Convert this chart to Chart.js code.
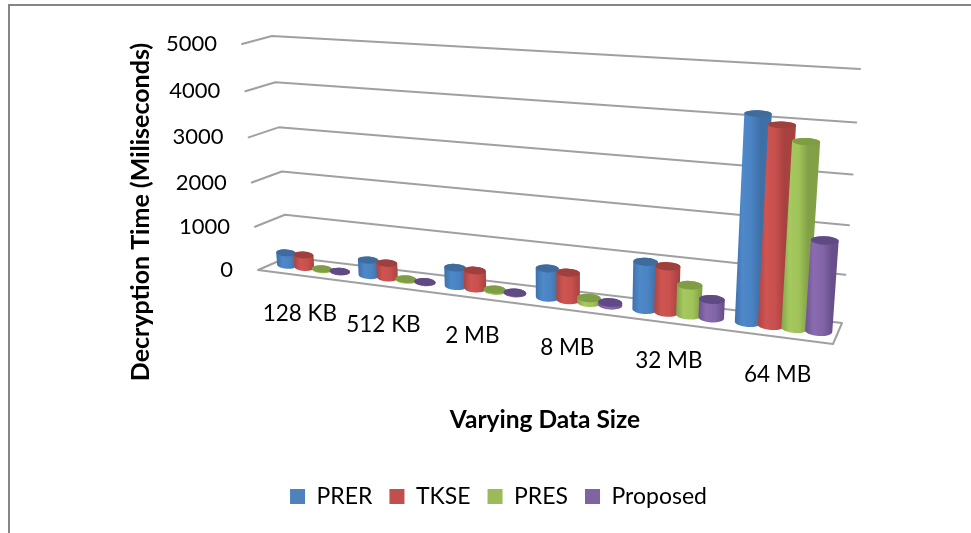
<!DOCTYPE html>
<html><head><meta charset="utf-8">
<style>
html,body{margin:0;padding:0;background:#fff;overflow:hidden}
#wrap{position:relative;width:971px;height:533px}
#frame{position:absolute;left:8px;top:4px;right:0;bottom:0;border-left:2px solid #858585;border-top:2px solid #858585;pointer-events:none}
canvas{position:absolute;left:0;top:0}
</style>
<script src="https://cdn.jsdelivr.net/npm/chart.js@4"></script>
</head><body><div id="wrap"><canvas id="c" width="971" height="533"></canvas><div id="frame"></div></div>
<script>
const categories=["128 KB","512 KB","2 MB","8 MB","32 MB","64 MB"];
const PRER=[290,350,410,630,1000,4100];
const TKSE=[290,330,400,590,960,3920];
const PRES=[15,20,30,100,620,3640];
const Proposed=[10,10,20,60,380,1800];
const yMax=5000, yStep=1000;
const colors=["#4F81BD","#C0504D","#9BBB59","#8064A2"];
const bodyStops=[["#3F72AC","#4F89CA","#4A82C2","#3E6FA6"],["#AD4543","#CE5552","#C8504E","#A84240"],["#84A548","#A6C95F","#A0C459","#82A147"],["#6C5290","#8A6BAF","#8266A8","#684F8B"]];
const capColors=["#3F6C9C","#9E403D","#7F9D44","#604A84"];

// perspective planes: corners for (u,t) = (0,0),(1,0),(1,1),(0,1)
const backQuad=[[288,257],[842,323],[860,69],[272,36]];
const midQuad=[[273,263.5],[838,333.5],[857,69.5],[257,40]];
const frontQuad=[[258,270],[833,344],[853,70],[242,44]];
function homography(q){
  const [x0,y0]=q[0],[x1,y1]=q[1],[x2,y2]=q[2],[x3,y3]=q[3];
  const dx1=x1-x2,dx2=x3-x2,sx=x0-x1+x2-x3,dy1=y1-y2,dy2=y3-y2,sy=y0-y1+y2-y3;
  const D=dx1*dy2-dx2*dy1,g=(sx*dy2-dx2*sy)/D,h=(dx1*sy-sx*dy1)/D;
  const a=x1-x0+g*x1,b=x3-x0+h*x3,d=y1-y0+g*y1,e=y3-y0+h*y3;
  return (u,t)=>{const w=g*u+h*t+1;return [(a*u+b*t+x0)/w,(d*u+e*t+y0)/w];};
}
const back=homography(backQuad),mid=homography(midQuad),front=homography(frontQuad);
const gridColor="#A0A0A0";

function cylinder(ctx,L0,R0,L1,R1,t,ds){
  const rx0=Math.hypot(R0[0]-L0[0],R0[1]-L0[1])/2, rx1=Math.hypot(R1[0]-L1[0],R1[1]-L1[1])/2;
  const a0=Math.atan2(R0[1]-L0[1],R0[0]-L0[0])*0.5, a1=Math.atan2(R1[1]-L1[1],R1[0]-L1[0])*0.5;
  const ry0=rx0*0.36, ry1=rx1*0.36*(1-0.4*t);
  const c0=[(L0[0]+R0[0])/2,(L0[1]+R0[1])/2], c1=[(L1[0]+R1[0])/2,(L1[1]+R1[1])/2];
  const g=ctx.createLinearGradient(L0[0],0,R0[0],0);
  const s=bodyStops[ds];
  g.addColorStop(0,s[0]);g.addColorStop(.3,s[1]);g.addColorStop(.65,s[2]);g.addColorStop(1,s[3]);
  ctx.fillStyle=g;
  ctx.beginPath();
  ctx.moveTo(c1[0]-rx1*Math.cos(a1),c1[1]-rx1*Math.sin(a1));
  ctx.lineTo(c0[0]-rx0*Math.cos(a0),c0[1]-rx0*Math.sin(a0));
  ctx.ellipse(c0[0],c0[1],rx0,ry0,a0,Math.PI,0,true);
  ctx.lineTo(c1[0]+rx1*Math.cos(a1),c1[1]+rx1*Math.sin(a1));
  ctx.ellipse(c1[0],c1[1],rx1,ry1,a1,0,Math.PI,true);
  ctx.closePath();ctx.fill();
  ctx.fillStyle=capColors[ds];
  ctx.beginPath();ctx.ellipse(c1[0],c1[1],rx1,ry1,a1,0,Math.PI*2);ctx.fill();
}
const scene={
  id:'scene',
  beforeDatasetsDraw(chart){
    const ctx=chart.ctx,a=chart.chartArea,ys=chart.scales.y,xs=chart.scales.x;
    const U=x=>(x-a.left)/(a.right-a.left),T=y=>(a.bottom-y)/(a.bottom-a.top);
    ctx.save();
    ctx.lineCap='round';ctx.lineJoin='round';
    ctx.strokeStyle=gridColor;ctx.lineWidth=2;
    ys.ticks.forEach(tk=>{
      const t=T(ys.getPixelForValue(tk.value));
      if(tk.value===0)return;
      const fl=front(0,t),bl=back(0,t),br=back(1,t);
      ctx.beginPath();ctx.moveTo(fl[0],fl[1]);ctx.lineTo(bl[0],bl[1]);ctx.lineTo(br[0],br[1]);ctx.stroke();
    });
    const f0=front(0,0),f1=front(1,0),b0=back(0,0),b1=back(1,0);
    ctx.fillStyle='#fff';
    ctx.beginPath();ctx.moveTo(f0[0],f0[1]);ctx.lineTo(b0[0],b0[1]);ctx.lineTo(b1[0],b1[1]);ctx.lineTo(f1[0],f1[1]);ctx.closePath();ctx.fill();ctx.stroke();
    ctx.fillStyle='#000';ctx.font='22px Lato';ctx.textAlign='right';ctx.textBaseline='middle';
    ys.ticks.forEach(tk=>{
      const p=front(0,T(ys.getPixelForValue(tk.value)));
      ctx.fillText(String(tk.value),p[0]-25,p[1]);
    });
    ctx.font='22.5px Lato';ctx.textAlign='center';
    xs.getLabels().forEach((lab,i)=>{
      const p=front(U(xs.getPixelForValue(i)),0);
      ctx.fillText(lab,p[0]+2,p[1]+38.5);
    });
    const metas=chart.data.datasets.map((_,i)=>chart.getDatasetMeta(i));
    categories.forEach((_,i)=>{
      metas.forEach((m,ds)=>{
        const el=m.data[i],hw=el.width*0.56;
        const ul=U(el.x-hw),ur=U(el.x+hw),t=T(el.y);
        cylinder(ctx,mid(ul,0),mid(ur,0),mid(ul,t),mid(ur,t),t,ds);
      });
    });
    ctx.restore();
    return false;
  }
};
const datasets=[["PRER",PRER],["TKSE",TKSE],["PRES",PRES],["Proposed",Proposed]].map((d,i)=>({
  label:d[0],data:d[1],backgroundColor:colors[i],borderWidth:0,categoryPercentage:0.87,barPercentage:1
}));
new Chart(document.getElementById('c'),{
  type:'bar',
  data:{labels:categories,datasets},
  plugins:[scene],
  options:{
    responsive:false,animation:false,
    layout:{padding:{left:126,right:100,top:44,bottom:15}},
    plugins:{
      tooltip:{enabled:false},
      legend:{position:'bottom',labels:{font:{family:'Lato',size:23},color:'#000',boxWidth:15,boxHeight:15,padding:17}}
    },
    scales:{
      x:{grid:{display:false},border:{display:false},ticks:{display:false},
        afterFit(s){s.height=88;},
        title:{display:true,text:'Varying Data Size',color:'#000',font:{family:'Lato',size:24.5,weight:'bold'},padding:{top:0,bottom:33}}},
      y:{min:0,max:yMax,grid:{display:false},border:{display:false},ticks:{display:false,stepSize:yStep},
        afterFit(s){s.width=93;},
        title:{display:true,text:'Decryption Time (Miliseconds)',color:'#000',font:{family:'Lato',size:25,weight:'bold'},padding:{top:0,bottom:0}}}
    }
  }
});
</script></body></html>
